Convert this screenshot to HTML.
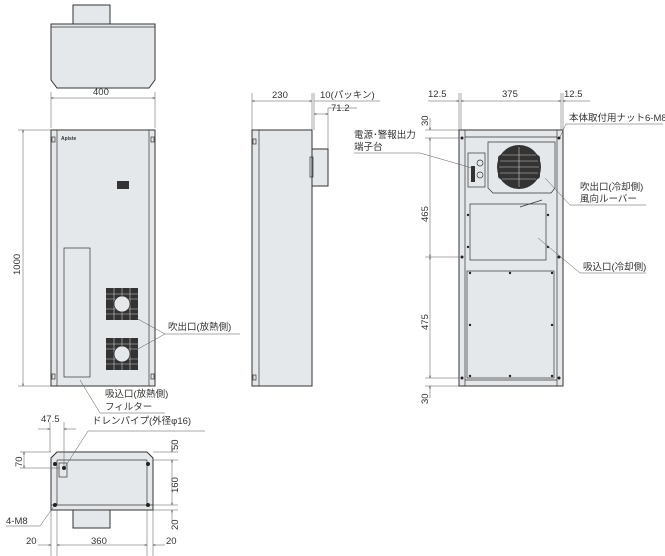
<!DOCTYPE html>
<html><head><meta charset="utf-8"><style>
html,body{margin:0;padding:0;background:#fff}
svg{display:block}
text{font-family:"Liberation Sans","Noto Sans CJK JP",sans-serif;font-size:9.5px;fill:#333}
.l{stroke:#333;stroke-width:.7;fill:none}
.b{stroke:#333;stroke-width:1;fill:#e4e8eb}
.d{stroke:#555;stroke-width:.5;fill:none}
.f{fill:#222}
</style></head><body>
<svg width="665" height="556" viewBox="0 0 665 556" xmlns="http://www.w3.org/2000/svg">
<defs>
<marker id="a" markerWidth="6" markerHeight="6" refX="5" refY="3" orient="auto-start-reverse"><path d="M0,1 L5,3 L0,5" fill="none" stroke="#444" stroke-width=".7"/></marker>
<g id="fan">
<rect x="0" y="0" width="32" height="32" fill="#333"/>
<g stroke="#ccc" stroke-width=".6"><line x1="0" y1="6" x2="32" y2="6"/><line x1="0" y1="11" x2="32" y2="11"/><line x1="0" y1="21" x2="32" y2="21"/><line x1="0" y1="26" x2="32" y2="26"/><line x1="8" y1="0" x2="8" y2="32"/><line x1="16" y1="0" x2="16" y2="32"/><line x1="24" y1="0" x2="24" y2="32"/></g>
<circle cx="16" cy="16" r="8" fill="#e4e8eb" stroke="#333" stroke-width=".8"/>
</g>
</defs>

<!-- top view -->
<rect x="73" y="5" width="37" height="19" class="b"/>
<path d="M51,24 H155 V80 L149,88 H57 L51,80 Z" class="b"/>
<line x1="51" y1="27" x2="155" y2="27" class="l"/>

<!-- 400 dim -->
<line x1="51" y1="92" x2="51" y2="128" class="d"/><line x1="155" y1="92" x2="155" y2="128" class="d"/>
<line x1="51" y1="98" x2="155" y2="98" class="d" marker-start="url(#a)" marker-end="url(#a)"/>
<text x="93" y="95">400</text>

<!-- front view -->
<rect x="51" y="130" width="104" height="256" class="b"/>
<line x1="57" y1="130" x2="57" y2="386" class="l"/><line x1="149" y1="130" x2="149" y2="386" class="l"/>
<rect x="52" y="137" width="3" height="5" class="l"/><rect x="151" y="137" width="3" height="5" class="l"/>
<rect x="52" y="374" width="3" height="5" class="l"/><rect x="151" y="374" width="3" height="5" class="l"/>
<text x="61" y="140" style="font-size:5px;font-weight:bold">Apiste</text>
<rect x="117" y="181" width="12" height="8" fill="#333"/>
<rect x="64" y="248" width="26" height="129" class="l"/>
<use href="#fan" x="106" y="288"/><use href="#fan" x="106" y="338"/>
<line x1="18" y1="130" x2="51" y2="130" class="d"/><line x1="18" y1="386" x2="51" y2="386" class="d"/>
<line x1="23" y1="130" x2="23" y2="386" class="d" marker-start="url(#a)" marker-end="url(#a)"/>
<text x="0" y="0" transform="translate(20,275) rotate(-90)">1000</text>
<text x="168" y="330">吹出口(放熱側)</text>
<line x1="165" y1="334" x2="240" y2="334" class="d"/>
<line x1="165" y1="334" x2="136" y2="318" class="d"/><line x1="165" y1="334" x2="136" y2="350" class="d"/>
<text x="105" y="397">吸込口(放熱側)</text>
<text x="105" y="410">フィルター</text>
<line x1="100" y1="413" x2="165" y2="413" class="d"/><line x1="100" y1="413" x2="80" y2="380" class="d"/>

<!-- bottom view -->
<path d="M57,452 H147 L153,458 V510 H51 V458 Z" class="b"/>
<line x1="57" y1="460" x2="57" y2="505" class="l"/><line x1="147" y1="460" x2="147" y2="505" class="l"/>
<line x1="57" y1="460" x2="147" y2="460" class="l"/><line x1="51" y1="505" x2="153" y2="505" class="l"/>
<rect x="73" y="510" width="37" height="18" class="b"/>
<circle cx="55" cy="464" r="2" class="f"/><circle cx="148" cy="464" r="2" class="f"/>
<circle cx="55" cy="505" r="2" class="f"/><circle cx="148" cy="505" r="2" class="f"/>
<rect x="59" y="463" width="8" height="14" class="l"/><circle cx="64" cy="468" r="2" class="f"/>
<line x1="50" y1="422" x2="50" y2="452" class="d"/><line x1="64" y1="422" x2="64" y2="466" class="d"/>
<line x1="38" y1="429" x2="50" y2="429" class="d" marker-end="url(#a)"/><line x1="76" y1="429" x2="64" y2="429" class="d" marker-end="url(#a)"/>
<text x="41" y="422">47.5</text>
<text x="92" y="424">ドレンパイプ(外径φ16)</text>
<line x1="88" y1="431" x2="205" y2="431" class="d"/><line x1="88" y1="431" x2="65" y2="467" class="d"/>
<line x1="20" y1="452" x2="51" y2="452" class="d"/><line x1="20" y1="468" x2="60" y2="468" class="d"/>
<line x1="24" y1="452" x2="24" y2="468" class="d" marker-start="url(#a)" marker-end="url(#a)"/>
<text transform="translate(22,467) rotate(-90)">70</text>
<line x1="153" y1="452" x2="178" y2="452" class="d"/><line x1="153" y1="460" x2="178" y2="460" class="d"/><line x1="153" y1="505" x2="178" y2="505" class="d"/><line x1="153" y1="510" x2="178" y2="510" class="d"/>
<line x1="172" y1="440" x2="172" y2="452" class="d" marker-end="url(#a)"/>
<line x1="172" y1="460" x2="172" y2="505" class="d" marker-start="url(#a)" marker-end="url(#a)"/>
<line x1="172" y1="522" x2="172" y2="510" class="d" marker-end="url(#a)"/>
<text transform="translate(178,450) rotate(-90)">50</text>
<text transform="translate(178,493) rotate(-90)">160</text>
<text transform="translate(178,530) rotate(-90)">20</text>
<text x="6" y="524">4-M8</text>
<line x1="6" y1="526" x2="40" y2="526" class="d"/><line x1="40" y1="526" x2="54" y2="506" class="d"/>
<line x1="51" y1="510" x2="51" y2="556" class="d"/><line x1="57" y1="510" x2="57" y2="556" class="d"/>
<line x1="147" y1="510" x2="147" y2="556" class="d"/><line x1="153" y1="510" x2="153" y2="556" class="d"/>
<line x1="38" y1="545" x2="51" y2="545" class="d" marker-end="url(#a)"/>
<line x1="57" y1="545" x2="147" y2="545" class="d" marker-start="url(#a)" marker-end="url(#a)"/>
<line x1="165" y1="545" x2="153" y2="545" class="d" marker-end="url(#a)"/>
<text x="26" y="544">20</text><text x="91" y="544">360</text><text x="166" y="544">20</text>

<!-- side view -->
<rect x="252" y="130" width="60" height="256" class="b"/>
<line x1="259" y1="130" x2="259" y2="386" class="l"/>
<rect x="312" y="149" width="16" height="37" class="b"/>
<rect x="310" y="157" width="3" height="20" class="l"/>
<rect x="253" y="139" width="3" height="5" class="l"/><rect x="253" y="375" width="3" height="5" class="l"/>
<line x1="252" y1="93" x2="252" y2="130" class="d"/><line x1="312" y1="93" x2="312" y2="130" class="d"/><line x1="314" y1="93" x2="314" y2="130" class="d"/><line x1="328" y1="108" x2="328" y2="149" class="d"/>
<line x1="252" y1="101" x2="312" y2="101" class="d" marker-start="url(#a)" marker-end="url(#a)"/>
<text x="272" y="98">230</text>
<line x1="314" y1="101" x2="380" y2="101" class="d"/>
<text x="320" y="98">10(パッキン)</text>
<line x1="314" y1="114" x2="328" y2="114" class="d" marker-start="url(#a)" marker-end="url(#a)"/>
<line x1="328" y1="108" x2="357" y2="108" class="d"/>
<text x="331" y="111">71.2</text>

<!-- back view -->
<rect x="459" y="130" width="104" height="256" class="b"/>
<line x1="465" y1="130" x2="465" y2="386" class="l"/><line x1="557" y1="130" x2="557" y2="386" class="l"/>
<line x1="465" y1="137" x2="557" y2="137" class="l"/><line x1="465" y1="380" x2="557" y2="380" class="l"/>
<circle cx="462" cy="138" r="1.5" class="f"/><circle cx="559" cy="138" r="1.5" class="f"/>
<circle cx="462" cy="257" r="1.5" class="f"/><circle cx="559" cy="257" r="1.5" class="f"/>
<circle cx="462" cy="378" r="1.5" class="f"/><circle cx="559" cy="378" r="1.5" class="f"/>
<path d="M488,142 H555 V188 L551,193 H493 L488,188 Z" class="l"/>
<circle cx="519" cy="167" r="22" fill="#333"/>
<rect x="498" y="155" width="8" height="24" rx="3" fill="#333"/><rect x="532" y="155" width="8" height="24" rx="3" fill="#333"/>
<g stroke="#ccc" stroke-width=".6"><line x1="502" y1="155" x2="536" y2="155"/><line x1="500" y1="161" x2="538" y2="161"/><line x1="499" y1="167" x2="539" y2="167"/><line x1="500" y1="173" x2="538" y2="173"/><line x1="502" y1="179" x2="536" y2="179"/><line x1="519" y1="147" x2="519" y2="187"/></g>
<rect x="468" y="153" width="17" height="34" class="l"/>
<rect x="471" y="166" width="4" height="16" fill="#333"/>
<circle cx="480" cy="163" r="3" class="l"/><circle cx="480" cy="175" r="3" class="l"/>
<rect x="470" y="204" width="76" height="56" class="l"/>
<line x1="520" y1="207" x2="542" y2="200" class="l" stroke-width="1.5"/>
<rect x="467" y="271" width="87" height="107" class="l"/>
<g class="f"><circle cx="468" cy="215" r="1.2"/><circle cx="468" cy="247" r="1.2"/><circle cx="548" cy="215" r="1.2"/><circle cx="548" cy="247" r="1.2"/>
<circle cx="470" cy="273" r="1.2"/><circle cx="510" cy="273" r="1.2"/><circle cx="552" cy="273" r="1.2"/><circle cx="470" cy="325" r="1.2"/><circle cx="552" cy="325" r="1.2"/><circle cx="470" cy="376" r="1.2"/><circle cx="510" cy="376" r="1.2"/><circle cx="552" cy="376" r="1.2"/></g>
<!-- back dims -->
<line x1="459" y1="93" x2="459" y2="130" class="d"/><line x1="461" y1="93" x2="461" y2="130" class="d"/>
<line x1="561" y1="93" x2="561" y2="130" class="d"/><line x1="563" y1="93" x2="563" y2="130" class="d"/>
<line x1="428" y1="101" x2="459" y2="101" class="d" marker-end="url(#a)"/>
<line x1="461" y1="101" x2="561" y2="101" class="d" marker-start="url(#a)" marker-end="url(#a)"/>
<line x1="590" y1="101" x2="563" y2="101" class="d" marker-end="url(#a)"/>
<text x="428" y="97">12.5</text><text x="502" y="97">375</text><text x="564" y="97">12.5</text>
<line x1="425" y1="130" x2="459" y2="130" class="d"/><line x1="425" y1="138" x2="459" y2="138" class="d"/><line x1="425" y1="257" x2="459" y2="257" class="d"/><line x1="425" y1="378" x2="459" y2="378" class="d"/><line x1="425" y1="386" x2="459" y2="386" class="d"/>
<line x1="430" y1="118" x2="430" y2="130" class="d" marker-end="url(#a)"/>
<line x1="430" y1="138" x2="430" y2="257" class="d" marker-start="url(#a)" marker-end="url(#a)"/>
<line x1="430" y1="257" x2="430" y2="378" class="d" marker-start="url(#a)" marker-end="url(#a)"/>
<line x1="430" y1="398" x2="430" y2="386" class="d" marker-end="url(#a)"/>
<text transform="translate(428,126) rotate(-90)">30</text>
<text transform="translate(428,222) rotate(-90)">465</text>
<text transform="translate(428,330) rotate(-90)">475</text>
<text transform="translate(428,404) rotate(-90)">30</text>
<text x="354" y="138">電源･警報出力</text>
<text x="354" y="150">端子台</text>
<line x1="354" y1="153" x2="420" y2="153" class="d"/><line x1="420" y1="153" x2="472" y2="168" class="d"/>
<text x="569" y="121">本体取付用ナット6-M8</text>
<line x1="566" y1="124" x2="663" y2="124" class="d"/><line x1="566" y1="124" x2="560" y2="137" class="d"/>
<text x="580" y="190">吹出口(冷却側)</text>
<text x="580" y="202">風向ルーバー</text>
<line x1="570" y1="205" x2="646" y2="205" class="d"/><line x1="570" y1="205" x2="545" y2="178" class="d"/>
<text x="583" y="270">吸込口(冷却側)</text>
<line x1="580" y1="273" x2="646" y2="273" class="d"/><line x1="580" y1="273" x2="538" y2="238" class="d"/>
</svg>
</body></html>
